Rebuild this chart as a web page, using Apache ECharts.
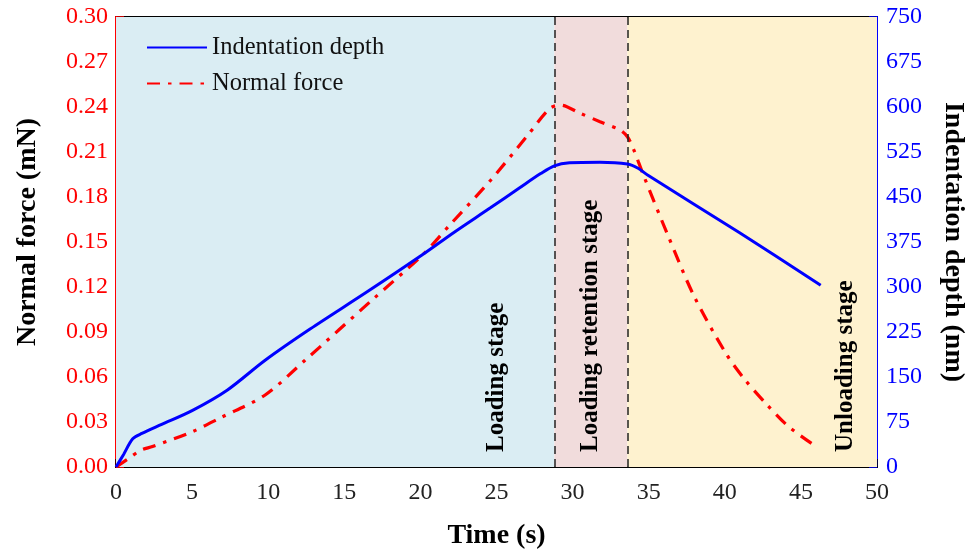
<!DOCTYPE html>
<html>
<head>
<meta charset="utf-8">
<script src="https://cdn.jsdelivr.net/npm/echarts@6/dist/echarts.min.js"></script>
<style>html,body{margin:0;padding:0;background:#fff;}#c{width:973px;height:552px;}</style>
</head>
<body>
<div id="c"></div>
<script>
// ---- data ----
const depthTime = [0, 0.5, 1.1, 1.7, 3, 5, 7.3, 9.8, 12.75, 16.5, 20.2, 22.2, 24.6, 26.5, 27.9, 28.8, 29.8, 31.8, 33.6, 34.3, 34.9, 41, 46.3];
const depthNm   = [0, 21, 47, 56, 71, 94, 128, 178, 230, 292, 355, 391, 432, 465, 489, 502, 507, 508, 505, 498, 487, 390, 303];
const forceTime = [0, 0.8, 1.6, 2.4, 5, 6.9, 9.8, 12.4, 16.9, 20.2, 21.9, 24.6, 27.0, 28.5, 29.2, 30.5, 31.8, 33.1, 33.6, 34.0, 34.65, 36.3, 38.0, 40.1, 41.3, 42.75, 44.2, 46.0];
const forceMN   = [0, 0.0055, 0.011, 0.0137, 0.0235, 0.033, 0.048, 0.071, 0.112, 0.142, 0.161, 0.191, 0.2205, 0.239, 0.2413, 0.2358, 0.2302, 0.2247, 0.2202, 0.212, 0.1947, 0.1535, 0.1135, 0.0753, 0.0585, 0.0418, 0.0269, 0.0136];
const stageBounds = [0, 28.8, 33.6, 50];
const stageNames = ['Loading stage', 'Loading retention stage', 'Unloading stage'];
const seriesNames = ['Indentation depth', 'Normal force'];
const xTicks = {min: 0, max: 50, interval: 5};
const yLeftTicks = {min: 0, max: 0.30, interval: 0.03};
const yRightTicks = {min: 0, max: 750, interval: 75};

const FONT = 'Liberation Serif';
const chart = echarts.init(document.getElementById('c'));
const zip = (a, b) => a.map((v, i) => [v, b[i]]);

const stageColors = ['#daedf3', '#f1dcdc', '#fef2cf'];

chart.setOption({
  animation: false,
  grid: {left: 116, right: 96, top: 17, bottom: 85, show: true, borderColor: '#000', borderWidth: 2, backgroundColor: 'transparent', containLabel: false, outerBoundsMode: 'none'},
  legend: {
    orient: 'vertical', left: 141, top: 30, itemWidth: 60, itemHeight: 14, itemGap: 11,
    data: seriesNames,
    itemStyle: {opacity: 0},
    textStyle: {fontFamily: FONT, fontSize: 24.5, color: '#111'}
  },
  xAxis: {
    type: 'value', min: xTicks.min, max: xTicks.max, interval: xTicks.interval,
    name: 'Time (s)', nameLocation: 'middle', nameGap: 55,
    nameTextStyle: {fontFamily: FONT, fontWeight: 'bold', fontSize: 28, color: '#000'},
    axisLine: {show: true, lineStyle: {color: '#000', width: 2}},
    axisTick: {show: true, inside: true, length: 8, lineStyle: {color: '#000', width: 1.5}},
    minorTick: {show: true, splitNumber: 2, length: 5, lineStyle: {color: '#000', width: 1.5}},
    axisLabel: {fontFamily: FONT, fontSize: 24, color: '#222', margin: 14},
    splitLine: {show: false}
  },
  yAxis: [{
    type: 'value', min: yLeftTicks.min, max: yLeftTicks.max, interval: yLeftTicks.interval,
    name: 'Normal force (mN)', nameLocation: 'middle', nameGap: 74,
    nameTextStyle: {fontFamily: FONT, fontWeight: 'bold', fontSize: 28, color: '#000', padding: [0, 0, 0, 20]},
    axisLine: {show: true, lineStyle: {color: '#ff0000', width: 2}},
    axisTick: {show: true, inside: true, length: 8, lineStyle: {color: '#ff0000', width: 1.5}},
    minorTick: {show: true, splitNumber: 2, length: 5, lineStyle: {color: '#ff0000', width: 1.5}},
    axisLabel: {fontFamily: FONT, fontSize: 24, color: '#ff0000', margin: 8, formatter: v => v.toFixed(2)},
    splitLine: {show: false}
  }, {
    type: 'value', min: yRightTicks.min, max: yRightTicks.max, interval: yRightTicks.interval, position: 'right',
    name: 'Indentation depth (nm)', nameLocation: 'middle', nameGap: 62, nameRotate: -90,
    nameTextStyle: {fontFamily: FONT, fontWeight: 'bold', fontSize: 28, color: '#000'},
    axisLine: {show: true, lineStyle: {color: '#0000ff', width: 2}},
    axisTick: {show: true, inside: true, length: 8, lineStyle: {color: '#0000ff', width: 1.5}},
    minorTick: {show: true, splitNumber: 2, length: 5, lineStyle: {color: '#0000ff', width: 1.5}},
    axisLabel: {fontFamily: FONT, fontSize: 24, color: '#0000ff', margin: 9},
    splitLine: {show: false}
  }],
  series: [{
    name: 'stages', type: 'line', data: [], yAxisIndex: 0, silent: true,
    markArea: {
      silent: true,
      data: stageBounds.slice(0, 3).map((b, i) => [{xAxis: b, itemStyle: {color: stageColors[i]}}, {xAxis: stageBounds[i + 1]}])
    },
    markLine: {
      silent: true, symbol: 'none', label: {show: false},
      lineStyle: {color: '#222', type: [8, 5], width: 1.5},
      data: [{xAxis: stageBounds[1]}, {xAxis: stageBounds[2]}]
    }
  }, {
    name: seriesNames[0], type: 'line', yAxisIndex: 1, data: zip(depthTime, depthNm),
    symbol: 'none', smooth: 0.3, z: 5,
    lineStyle: {color: '#0000ff', width: 3}, itemStyle: {color: '#0000ff'}
  }, {
    name: seriesNames[1], type: 'line', yAxisIndex: 0, data: zip(forceTime, forceMN),
    symbol: 'none', smooth: 0.3, z: 4,
    lineStyle: {color: '#ff0000', width: 3.2, type: [13, 8, 3.5, 8], cap: 'butt'}, itemStyle: {color: '#ff0000'}
  }]
});

// stage labels (vertical text)
const labelPos = [[497, 452], [591, 452], [846, 452]];
chart.setOption({
  graphic: stageNames.map((t, i) => ({
    type: 'text', x: labelPos[i][0], y: labelPos[i][1], rotation: Math.PI / 2, z: 10,
    style: {text: t, fontFamily: FONT, fontWeight: 'bold', fontSize: 25, fill: '#000', align: 'left', verticalAlign: 'middle'}
  }))
});
</script>
</body>
</html>
